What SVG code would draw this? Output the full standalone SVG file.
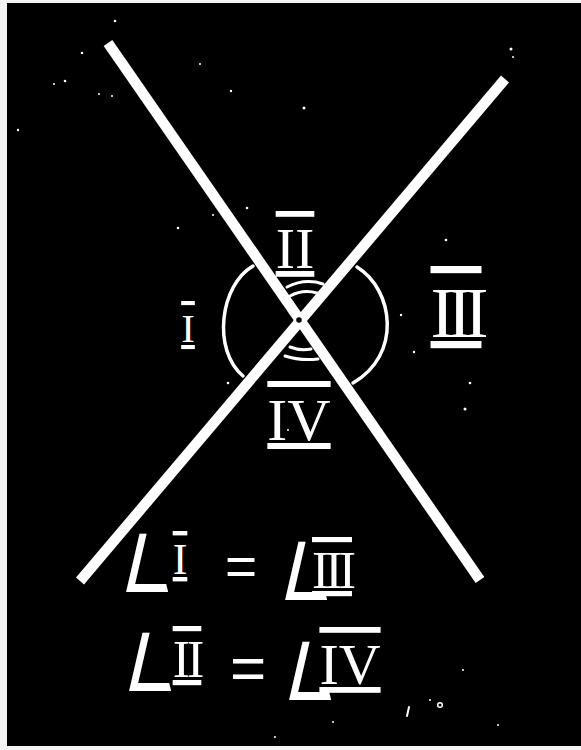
<svg xmlns="http://www.w3.org/2000/svg" width="581" height="750" viewBox="0 0 581 750">
<style>
.chalk{stroke:#fff;fill:none;stroke-linecap:round}
.bar{stroke:#fff;stroke-width:10.5;stroke-linecap:butt}
.num{font-family:"Liberation Serif","Times New Roman",serif;fill:#fff;text-decoration:overline underline;text-anchor:middle}
.sym{font-family:"Liberation Sans","DejaVu Sans",sans-serif;fill:#fff;text-anchor:middle}
.ang{font-family:"DejaVu Sans",sans-serif;fill:#fff;font-size:80px}
.dot{fill:#fff}
</style>
<rect x="0" y="0" width="581" height="750" fill="#f4f4f4"/>
<rect x="7" y="3" width="574" height="743" fill="#000"/>
<g id="connectors">
<line class="bar" x1="108" y1="43" x2="480" y2="580"/>
<line class="bar" x1="505" y1="79" x2="80" y2="581"/>
</g>
<g id="arcs">
<path class="chalk" stroke-width="3.5" d="M253 266 C220 285 212 350 243 376"/>
<path class="chalk" stroke-width="3.5" d="M357 267 C394 290 402 355 353 383"/>
<path class="chalk" stroke-width="3" d="M287 287 Q305 278 323 284"/>
<path class="chalk" stroke-width="3" d="M290 296 Q303 289 317 293"/>
<path class="chalk" stroke-width="3" d="M290 347 Q300 351 311 349"/>
<path class="chalk" stroke-width="3" d="M285 356 Q300 361 318 359"/>
</g>
<g id="vertex">
<circle cx="299" cy="320" r="5.5" fill="#fff"/>
<circle cx="299" cy="320" r="2.8" fill="#000"/>
</g>
<g id="angle-I"><text class="num" x="188" y="342" font-size="41">I</text></g>
<g id="angle-II"><text class="num" x="295" y="268" font-size="58">II</text></g>
<g id="angle-III"><text class="num" x="456" y="337" font-size="72" letter-spacing="-7">III</text></g>
<g id="angle-IV"><text class="num" x="299" y="440" font-size="60">IV</text></g>
<g id="equation-1">
<text class="ang" transform="translate(121 592) skewX(14) scale(0.75 1)">∠</text>
<text class="num" x="180" y="574" font-size="44">I</text>
<text class="sym" x="241" y="585" font-size="55">=</text>
<text class="ang" transform="translate(280 600) skewX(14) scale(0.75 1)">∠</text>
<text class="num" x="332" y="588" font-size="52" letter-spacing="-4">III</text>
</g>
<g id="equation-2">
<text class="ang" transform="translate(124 691) skewX(14) scale(0.75 1)">∠</text>
<text class="num" x="187" y="677" font-size="52" letter-spacing="-3">II</text>
<text class="sym" x="248" y="689" font-size="62">=</text>
<text class="ang" transform="translate(284 700) skewX(14) scale(0.75 1)">∠</text>
<text class="num" x="350" y="684" font-size="58">IV</text>
</g>
<g id="specks">
<circle class="dot" cx="115" cy="21" r="1.3"/>
<circle class="dot" cx="82" cy="53" r="1.3"/>
<circle class="dot" cx="65" cy="81" r="1.3"/>
<circle class="dot" cx="54" cy="84" r="1"/>
<circle class="dot" cx="99" cy="94" r="1"/>
<circle class="dot" cx="112" cy="96" r="1"/>
<circle class="dot" cx="200" cy="64" r="1"/>
<circle class="dot" cx="231" cy="91" r="1.2"/>
<circle class="dot" cx="304" cy="108" r="1.5"/>
<circle class="dot" cx="511" cy="49" r="1.5"/>
<circle class="dot" cx="513" cy="57" r="1"/>
<circle class="dot" cx="18" cy="130" r="1.2"/>
<circle class="dot" cx="178" cy="228" r="1.3"/>
<circle class="dot" cx="247" cy="208" r="1.3"/>
<circle class="dot" cx="213" cy="215" r="1"/>
<circle class="dot" cx="446" cy="240" r="1.3"/>
<circle class="dot" cx="401" cy="315" r="1.2"/>
<circle class="dot" cx="414" cy="352" r="1.2"/>
<circle class="dot" cx="470" cy="383" r="1.3"/>
<circle class="dot" cx="465" cy="409" r="1.5"/>
<circle class="dot" cx="228" cy="383" r="1.3"/>
<circle class="dot" cx="288" cy="430" r="1"/>
<circle class="dot" cx="430" cy="700" r="1"/>
<circle class="dot" cx="463" cy="670" r="1"/>
<circle class="dot" cx="333" cy="722" r="1"/>
<circle class="dot" cx="275" cy="737" r="1"/>
<circle class="dot" cx="498" cy="725" r="1"/>
<line class="chalk" stroke-width="2" x1="409" y1="707" x2="407" y2="716"/>
<circle cx="440" cy="705" r="2.3" fill="none" stroke="#fff" stroke-width="1.5"/>
</g>
</svg>
